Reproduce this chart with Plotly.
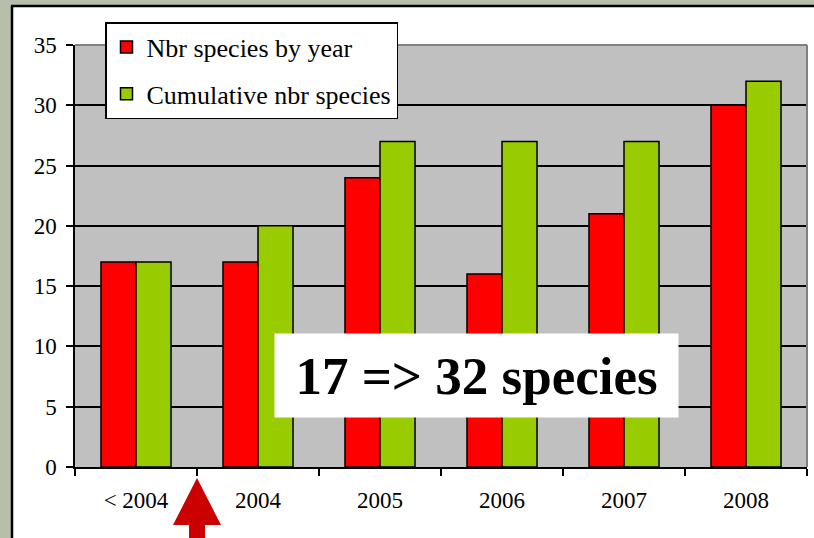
import plotly.graph_objects as go

# Species counts per period
categories = ["< 2004", "2004", "2005", "2006", "2007", "2008"]
species_by_year = [17, 17, 24, 16, 21, 30]
cumulative_species = [17, 20, 27, 27, 27, 32]
y_ticks = [0, 5, 10, 15, 20, 25, 30, 35]

RED = "#FF0000"
GREEN = "#99CC00"
SERIF = "Liberation Serif"

fig = go.Figure()
fig.add_trace(go.Bar(
    x=categories, y=species_by_year, name="Nbr species by year",
    marker=dict(color=RED, line=dict(color="black", width=1.5)),
    legendgroup="a",
))
fig.add_trace(go.Bar(
    x=categories, y=cumulative_species, name="Cumulative nbr species",
    marker=dict(color=GREEN, line=dict(color="black", width=1.5)),
    legendgroup="b",
))

L, R, T, B = 75, 7, 45, 71
W, H = 814, 538
pw, ph = W - L - R, H - T - B


def px(x):
    return (x - L) / pw


def py(y):
    return (H - B - y) / ph


shapes = []
# Textured surround outside the white panel
bg = "#B7BEA9"
shapes.append(dict(type="rect", xref="paper", yref="paper", layer="above",
                   x0=px(-5), x1=px(11), y0=py(W), y1=py(-5),
                   fillcolor=bg, line=dict(width=0)))
shapes.append(dict(type="rect", xref="paper", yref="paper", layer="above",
                   x0=px(-5), x1=px(W + 5), y0=py(5), y1=py(-5),
                   fillcolor=bg, line=dict(width=0)))
# Panel border
shapes.append(dict(type="line", xref="paper", yref="paper", layer="above",
                   x0=px(12), x1=px(12), y0=py(6), y1=py(H + 5),
                   line=dict(color="black", width=2.5)))
shapes.append(dict(type="line", xref="paper", yref="paper", layer="above",
                   x0=px(11), x1=px(W + 5), y0=py(6), y1=py(6),
                   line=dict(color="black", width=2.5)))
# Grey frame on top and right of plot area
shapes.append(dict(type="line", xref="paper", yref="paper", layer="above",
                   x0=0, x1=1, y0=1, y1=1, line=dict(color="#808080", width=2)))
shapes.append(dict(type="line", xref="paper", yref="paper", layer="above",
                   x0=1, x1=1, y0=0, y1=1, line=dict(color="#808080", width=2)))

# Arrow pointing at the boundary between "< 2004" and "2004"
ax = 1 / len(categories)
hw, sw = 24 / pw, 8 / pw
tip, base, bottom = py(478), py(525), py(H + 5)
arrow = (f"M {ax} {tip} L {ax + hw} {base} L {ax + sw} {base} L {ax + sw} {bottom} "
         f"L {ax - sw} {bottom} L {ax - sw} {base} L {ax - hw} {base} Z")
shapes.append(dict(type="path", xref="paper", yref="paper", layer="above",
                   path=arrow, fillcolor="#CC0000", line=dict(width=0)))

fig.update_layout(
    width=W, height=H,
    margin=dict(l=L, r=R, t=T, b=B),
    paper_bgcolor="white",
    plot_bgcolor="#C0C0C0",
    barmode="group", bargap=0.426, bargroupgap=0,
    font=dict(family=SERIF, color="black", size=22),
    showlegend=True,
    legend=dict(
        x=px(105), y=py(22), xanchor="left", yanchor="top",
        bgcolor="white", bordercolor="black", borderwidth=1.5,
        font=dict(family=SERIF, size=26, color="black"),
        traceorder="grouped", tracegroupgap=10,
    ),
    xaxis=dict(
        showline=True, linecolor="black", linewidth=1.5,
        ticks="outside", ticklen=7, tickcolor="black", tickwidth=1.5,
        tickson="boundaries", showgrid=False,
        tickfont=dict(family=SERIF, size=23), ticklabelstandoff=12,
    ),
    yaxis=dict(
        range=[0, 35], tickvals=y_ticks,
        showline=True, linecolor="black", linewidth=1.5,
        ticks="outside", ticklen=7, tickcolor="black", tickwidth=1.5,
        showgrid=True, gridcolor="black", gridwidth=1.5,
        zeroline=False,
        tickfont=dict(family=SERIF, size=23), ticklabelstandoff=5,
    ),
    shapes=shapes,
    annotations=[dict(
        text="<b>17 => 32 species</b>",
        xref="paper", yref="paper", x=px(476.5), y=py(375.5),
        xanchor="center", yanchor="middle", showarrow=False,
        bgcolor="white", width=399, height=79, borderpad=2,
        font=dict(family=SERIF, size=53, color="black"),
    )],
)

fig.write_html("out.html")
